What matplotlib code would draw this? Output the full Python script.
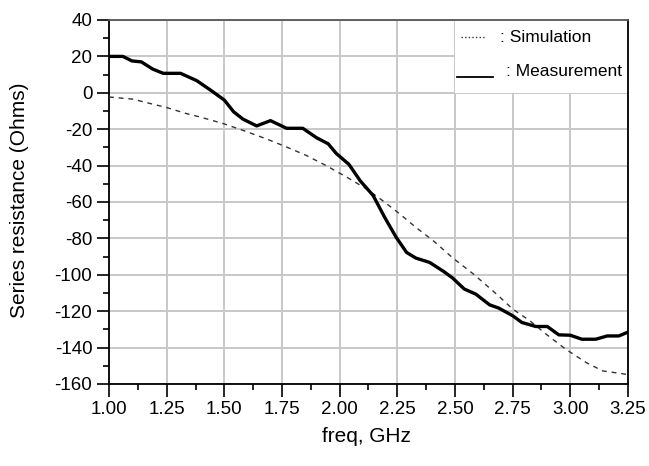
import matplotlib
matplotlib.use('Agg')
import matplotlib.pyplot as plt
from matplotlib.lines import Line2D
from matplotlib.patches import Rectangle
from matplotlib.ticker import MultipleLocator


# measured series resistance (solid curve)
measFreq = [1.00, 1.06, 1.10, 1.14, 1.19, 1.235, 1.31, 1.38, 1.44, 1.50,
            1.54, 1.58, 1.64, 1.70, 1.77, 1.84, 1.90, 1.95, 1.985, 2.04,
            2.09, 2.145, 2.195, 2.245, 2.29, 2.33, 2.39, 2.45, 2.49, 2.54,
            2.59, 2.65, 2.69, 2.75, 2.79, 2.85, 2.90, 2.95, 3.00, 3.05,
            3.11, 3.16, 3.21, 3.25]
measRes = [20, 20, 17.5, 17, 13, 10.7, 10.7, 6.7, 1.5, -4,
           -10.4, -14.4, -18.2, -15.3, -19.5, -19.5, -24.7, -28, -33.3, -39.3,
           -48.5, -56.4, -68.4, -79.4, -87.7, -90.8, -93.2, -98.1, -101.8, -107.8,
           -110.6, -116.5, -118.3, -122.5, -126.2, -128.4, -128.4, -133, -133.2, -135.4,
           -135.4, -133.6, -133.6, -131.5]

# simulated series resistance (dashed curve)
simFreq = [1.00, 1.105, 1.15, 1.25, 1.335, 1.395, 1.495, 1.58, 1.68, 1.77,
           1.855, 1.94, 2.03, 2.115, 2.19, 2.26, 2.33, 2.405, 2.49, 2.58,
           2.68, 2.75, 2.825, 2.895, 2.98, 3.07, 3.14, 3.25]
simRes = [-2.3, -3.5, -5, -8.1, -11.4, -13.3, -16.9, -20.6, -25.2, -29.8,
          -34.4, -39.9, -46.3, -52.7, -59.6, -66.5, -73.9, -81.2, -90.7, -99.6,
          -110.6, -118.8, -125.3, -132.6, -140.9, -148.3, -152.8, -154.8]

xTicks = [1.00, 1.25, 1.50, 1.75, 2.00, 2.25, 2.50, 2.75, 3.00, 3.25]
yTicks = list(range(-160, 41, 20))

plt.rcParams['font.family'] = ['Liberation Sans', 'DejaVu Sans']
plt.rcParams['axes.unicode_minus'] = False

W, H = 649, 466


def fx(px):
    return px / W


def fy(py):
    return 1 - py / H


fig = plt.figure(figsize=(W / 100, H / 100), dpi=100)
ax = fig.add_axes([fx(109), fy(384), fx(628) - fx(109), fy(20) - fy(384)])

ax.plot(simFreq, simRes, color='#333333', linewidth=1.0,
        linestyle=(0, (3.5, 3.5)), zorder=3)
ax.plot(measFreq, measRes, color='black', linewidth=2.4, zorder=4)

ax.set_xlim(1.00, 3.25)
ax.set_ylim(-160, 40)
ax.set_xticks(xTicks)
ax.set_xticklabels(['%.2f' % t for t in xTicks])
ax.set_yticks(yTicks)
ax.xaxis.set_minor_locator(MultipleLocator(0.125))
ax.yaxis.set_minor_locator(MultipleLocator(10))
ax.grid(True, which='major', color='#c8c8c8', linewidth=1.4, zorder=0)
ax.set_axisbelow(True)

ax.tick_params(which='major', length=9, width=1.2, labelsize=13.5, pad=3)
ax.tick_params(which='minor', length=4.5, width=1.2)
for side in ['left', 'bottom', 'right']:
    ax.spines[side].set_color('black')
    ax.spines[side].set_linewidth(1.3)
ax.spines['top'].set_color('#555555')
ax.spines['top'].set_linewidth(1.3)

# axis titles
fig.text(fx(366), fy(437), 'freq, GHz', fontsize=15,
         ha='center', va='center')
fig.text(fx(20), fy(200), 'Series resistance (Ohms)', fontsize=15,
         ha='center', va='center', rotation=90)

# legend sits on a white block that hides the grid in the upper right
ax.add_patch(Rectangle((2.5, 0), 0.75, 40, facecolor='white',
                       edgecolor='none', zorder=1))
fig.add_artist(Line2D([fx(461), fx(485)], [fy(37), fy(37)], color='#333333',
                      linestyle=(0, (1, 1.6)), linewidth=1.0))
fig.add_artist(Line2D([fx(457), fx(493)], [fy(77), fy(77)], color='black',
                      linewidth=1.3))
fig.text(fx(500), fy(37), ': Simulation', fontsize=12.5, ha='left', va='center')
fig.text(fx(506), fy(72), ': Measurement', fontsize=12.5, ha='left', va='center')

fig.savefig('out.png', dpi=100)
